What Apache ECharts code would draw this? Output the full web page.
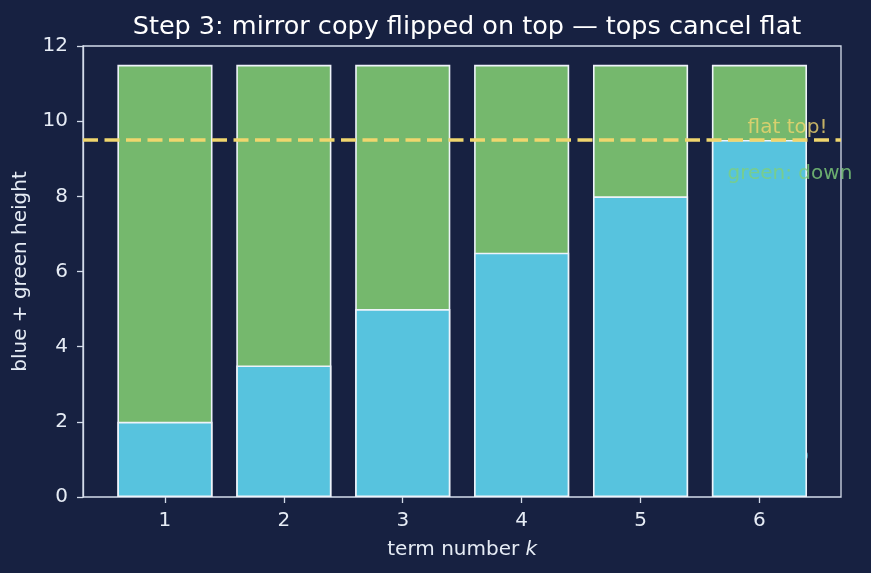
<!DOCTYPE html>
<html><head><meta charset="utf-8">
<script src="https://cdn.jsdelivr.net/npm/echarts@6/dist/echarts.min.js"></script>
<style>html,body{margin:0;padding:0;background:#172141;}#c{width:871px;height:573px;}</style>
</head><body><div id="c"></div>
<script>
var terms = ['1', '2', '3', '4', '5', '6'];
var blueVals = [2, 3.5, 5, 6.5, 8, 9.5];
var greenVals = [9.5, 8, 6.5, 5, 3.5, 2];
var flatLevel = 9.5;
var frameXRange = [0.31, 6.69];
var notes = [
  {text: 'flat top!', x: 6.24, y: 9.82, color: '#f0d66e'},
  {text: 'green: down', x: 6.26, y: 8.6, color: '#7fcf7a'}
];
var hiddenNote = {text: 'blue: up', x: 6.42, y: 1.1, color: '#56c3de'};

// green sits on top of blue: its top is blue + green
var totals = blueVals.map(function (b, i) { return b + greenVals[i]; });

var fg = '#e6ecf5';
var edge = '#d4dcea';
var font = 'DejaVu Sans';
var chart = echarts.init(document.getElementById('c'), null, {renderer: 'canvas'});
chart.setOption({
  backgroundColor: '#172141',
  animation: false,
  textStyle: {fontFamily: font},
  title: {text: 'Step 3: mirror copy flipped on top — tops cancel flat', left: 462, textAlign: 'center', top: 9,
    textStyle: {color: '#ffffff', fontSize: 25.5, fontWeight: 'normal', fontFamily: font}},
  grid: [
    {left: 105.5, right: 52.1, top: 46, bottom: 76, show: false},
    {left: 83, right: 30, top: 46, bottom: 76, show: true, borderColor: edge, borderWidth: 1.3, backgroundColor: 'transparent'}
  ],
  xAxis: [
    {type: 'category', gridIndex: 0, data: terms, boundaryGap: true,
      axisLine: {show: false},
      axisTick: {show: true, alignWithLabel: true, length: 6, lineStyle: {color: edge, width: 1.3}},
      axisLabel: {color: fg, fontSize: 20, margin: 14, fontFamily: font},
      name: '{a|term number }{b|k}', nameLocation: 'middle', nameGap: 43,
      nameTextStyle: {rich: {a: {color: fg, fontSize: 20, fontFamily: font}, b: {color: fg, fontSize: 20, fontStyle: 'italic', fontFamily: font}}}
    },
    {type: 'value', gridIndex: 1, min: frameXRange[0], max: frameXRange[1], show: false}
  ],
  yAxis: [
    {type: 'value', gridIndex: 0, min: 0, max: 12, interval: 2, show: false},
    {type: 'value', gridIndex: 1, min: 0, max: 12, interval: 2,
      axisLine: {show: true, lineStyle: {color: edge, width: 1.3}},
      axisTick: {show: true, length: 6, lineStyle: {color: edge, width: 1.3}},
      axisLabel: {color: fg, fontSize: 20, margin: 15, fontFamily: font},
      splitLine: {show: false},
      name: 'blue + green height', nameLocation: 'middle', nameGap: 52,
      nameTextStyle: {color: fg, fontSize: 20, fontFamily: font}
    }
  ],
  series: [
    {type: 'scatter', xAxisIndex: 1, yAxisIndex: 1, z: 1, symbolSize: 0, silent: true,
      data: [[hiddenNote.x, hiddenNote.y]],
      label: {show: true, position: 'left', distance: 0, formatter: hiddenNote.text, color: hiddenNote.color, fontSize: 20, fontFamily: font}},
    {type: 'bar', name: 'green', xAxisIndex: 0, yAxisIndex: 0, z: 2, barWidth: '80%', barGap: '-100%',
      data: totals,
      itemStyle: {color: '#75b86d', borderColor: '#eef3fa', borderWidth: 1.6}},
    {type: 'bar', name: 'blue', xAxisIndex: 0, yAxisIndex: 0, z: 2, barWidth: '80%', barGap: '-100%',
      data: blueVals,
      itemStyle: {color: '#57c3de', borderColor: '#eef3fa', borderWidth: 1.6}},
    {type: 'line', xAxisIndex: 1, yAxisIndex: 1, z: 3, symbol: 'none', silent: true,
      data: [[frameXRange[0], flatLevel], [frameXRange[1], flatLevel]],
      lineStyle: {color: '#f0d66e', width: 3.5, type: [15, 6.5]}},
    {type: 'scatter', xAxisIndex: 1, yAxisIndex: 1, z: 4, symbolSize: 0, silent: true,
      data: notes.map(function (n) { return {value: [n.x, n.y], label: {color: n.color, formatter: n.text}}; }),
      label: {show: true, position: 'inside', fontSize: 20, fontFamily: font}}
  ]
});
</script></body></html>
